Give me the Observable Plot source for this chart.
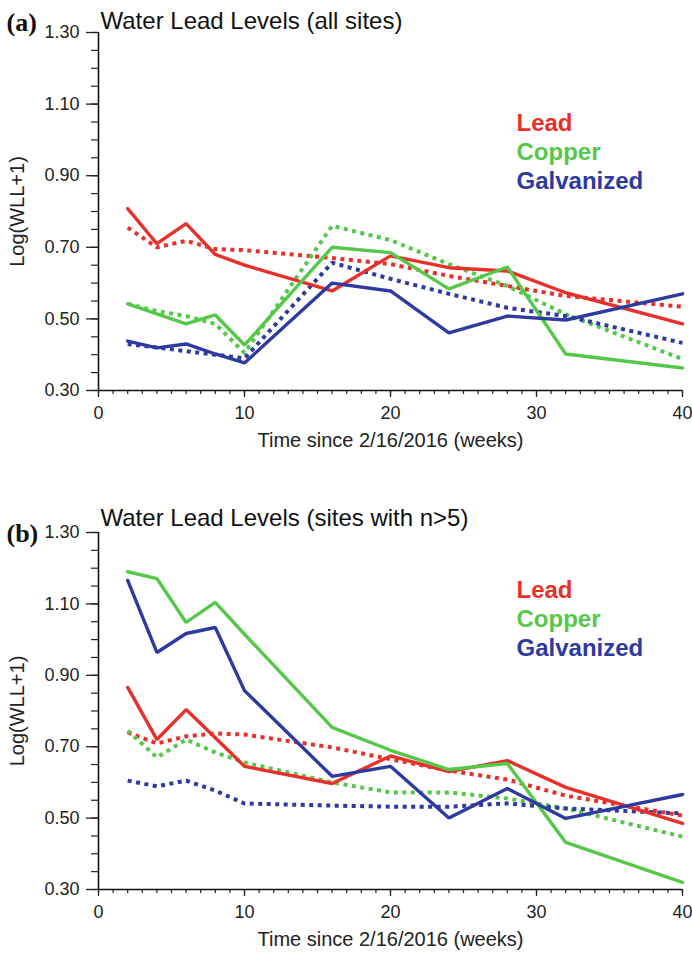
<!DOCTYPE html>
<html>
<head>
<meta charset="utf-8">
<script src="https://cdn.jsdelivr.net/npm/d3@7"></script>
<script src="https://cdn.jsdelivr.net/npm/@observablehq/plot@0.6"></script>
<style>
  html, body { margin: 0; padding: 0; background: #fff; overflow: hidden; }
  #chart { width: 692px; }
  svg { display: block; }
</style>
</head>
<body>
<div id="chart"></div>
<script>
// ---- data ----
const weeks = [2, 4, 6, 8, 10, 16, 20, 24, 28, 32, 40];
const types = ["Lead", "Copper", "Galvanized"];
const typeColors = ["#e8302a", "#55c84a", "#2d3a9f"];

// panel (a): all sites
const aLeadSolid    = [0.808, 0.710, 0.766, 0.680, 0.650, 0.578, 0.676, 0.643, 0.634, 0.573, 0.486];
const aLeadDotted   = [0.755, 0.700, 0.718, 0.695, 0.692, 0.670, 0.653, 0.620, 0.592, 0.564, 0.534];
const aCopperSolid  = [0.542, 0.514, 0.486, 0.511, 0.427, 0.700, 0.685, 0.584, 0.645, 0.402, 0.363];
const aCopperDotted = [0.542, 0.522, 0.508, 0.486, 0.405, 0.760, 0.720, 0.653, 0.592, 0.513, 0.388];
const aGalvSolid    = [0.438, 0.419, 0.430, 0.402, 0.377, 0.600, 0.578, 0.461, 0.508, 0.497, 0.570];
const aGalvDotted   = [0.430, 0.420, 0.410, 0.400, 0.390, 0.657, 0.612, 0.570, 0.531, 0.508, 0.433];

// panel (b): sites with n>5
const bLeadSolid    = [0.866, 0.720, 0.804, 0.725, 0.645, 0.597, 0.674, 0.630, 0.661, 0.586, 0.485];
const bLeadDotted   = [0.740, 0.709, 0.729, 0.737, 0.734, 0.698, 0.665, 0.633, 0.608, 0.563, 0.507];
const bCopperSolid  = [1.190, 1.171, 1.048, 1.104, 1.015, 0.754, 0.690, 0.636, 0.653, 0.432, 0.320];
const bCopperDotted = [0.745, 0.670, 0.720, 0.684, 0.656, 0.600, 0.572, 0.572, 0.555, 0.527, 0.448];
const bGalvSolid    = [1.166, 0.964, 1.017, 1.034, 0.857, 0.617, 0.645, 0.500, 0.583, 0.499, 0.566];
const bGalvDotted   = [0.605, 0.589, 0.605, 0.577, 0.541, 0.535, 0.532, 0.532, 0.541, 0.527, 0.513];

const yMajor = [0.30, 0.50, 0.70, 0.90, 1.10, 1.30];
const yMinor = d3.range(6, 27).map(i => i * 0.05);
const xMajor = [0, 10, 20, 30, 40];
const xMinor = d3.range(0, 41);

const panels = [
  {tag: "(a)", title: "Water Lead Levels (all sites)", height: 500, marginBottom: 110,
   tagDy: -10, titleDy: -11, legendDy: [91, 120, 149],
   series: {Lead: [aLeadSolid, aLeadDotted], Copper: [aCopperSolid, aCopperDotted], Galvanized: [aGalvSolid, aGalvDotted]}},
  {tag: "(b)", title: "Water Lead Levels (sites with n>5)", height: 456, marginBottom: 67,
   tagDy: 1, titleDy: -14, legendDy: [58, 87, 116],
   series: {Lead: [bLeadSolid, bLeadDotted], Copper: [bCopperSolid, bCopperDotted], Galvanized: [bGalvSolid, bGalvDotted]}}
];

const font = "'Liberation Sans', Arial, Helvetica, sans-serif";

function rows(p, idx) {
  const out = [];
  for (const t of types) {
    const vals = p.series[t][idx];
    weeks.forEach((w, i) => out.push({type: t, week: w, value: vals[i]}));
  }
  return out;
}

for (const p of panels) {
  const solid = rows(p, 0);
  const dotted = rows(p, 1);
  const legendMarks = types.map((t, i) =>
    Plot.text([t], {frameAnchor: "top-left", text: d => d, fill: typeColors[i], dx: 418, dy: p.legendDy[i],
                    textAnchor: "start", lineAnchor: "middle", fontSize: 24, fontWeight: "bold"}));

  const chart = Plot.plot({
    width: 692,
    height: p.height,
    marginLeft: 98,
    marginRight: 10,
    marginTop: 32,
    marginBottom: p.marginBottom,
    style: {fontFamily: font, background: "#fff", overflow: "visible"},
    x: {domain: [0, 40]},
    y: {domain: [0.30, 1.30]},
    color: {domain: types, range: typeColors},
    marks: [
      // minor ticks
      Plot.axisY({ticks: yMinor, tickSize: 7, tickFormat: () => "", stroke: "#222", strokeWidth: 1.2, label: null}),
      Plot.axisX({ticks: xMinor, tickSize: 4, tickFormat: () => "", stroke: "#222", strokeWidth: 1.2, label: null}),
      // major ticks + labels
      Plot.axisY({ticks: yMajor, tickSize: 12, tickPadding: 7, tickFormat: d3.format(".2f"),
                  fontSize: 18, fill: "#222", stroke: "#222", strokeWidth: 1.3, label: null}),
      Plot.axisX({ticks: xMajor, tickSize: 7, tickPadding: 9, tickFormat: d3.format("d"),
                  fontSize: 18, fill: "#222", stroke: "#222", strokeWidth: 1.3, label: null}),
      // axis lines
      Plot.ruleX([0], {stroke: "#111", strokeWidth: 1.6}),
      Plot.ruleY([0.30], {stroke: "#111", strokeWidth: 1.6}),
      // data lines
      Plot.line(dotted, {x: "week", y: "value", z: "type", stroke: "type",
                         strokeWidth: 4, strokeDasharray: "4,4.5", strokeLinecap: "butt"}),
      Plot.line(solid, {x: "week", y: "value", z: "type", stroke: "type",
                        strokeWidth: 3.4, strokeLinejoin: "miter"}),
      // legend
      ...legendMarks,
      // titles / labels
      Plot.text([p.title], {frameAnchor: "top-left", dx: 2, dy: p.titleDy, textAnchor: "start",
                            lineAnchor: "middle", fontSize: 24, fill: "#111"}),
      Plot.text([p.tag], {frameAnchor: "top-left", dx: -92, dy: p.tagDy, textAnchor: "start",
                          lineAnchor: "middle", fontSize: 26, fontWeight: "bold", fill: "#111",
                          fontFamily: "'Liberation Serif', 'Times New Roman', serif"}),
      Plot.text(["Log(WLL+1)"], {frameAnchor: "left", dx: -81, rotate: -90, textAnchor: "middle",
                                 lineAnchor: "middle", fontSize: 20, fill: "#222"}),
      Plot.text(["Time since 2/16/2016 (weeks)"], {frameAnchor: "bottom", dy: 50, textAnchor: "middle",
                                                   lineAnchor: "middle", fontSize: 20, fill: "#222"})
    ]
  });
  document.getElementById("chart").appendChild(chart);
}
</script>
</body>
</html>
